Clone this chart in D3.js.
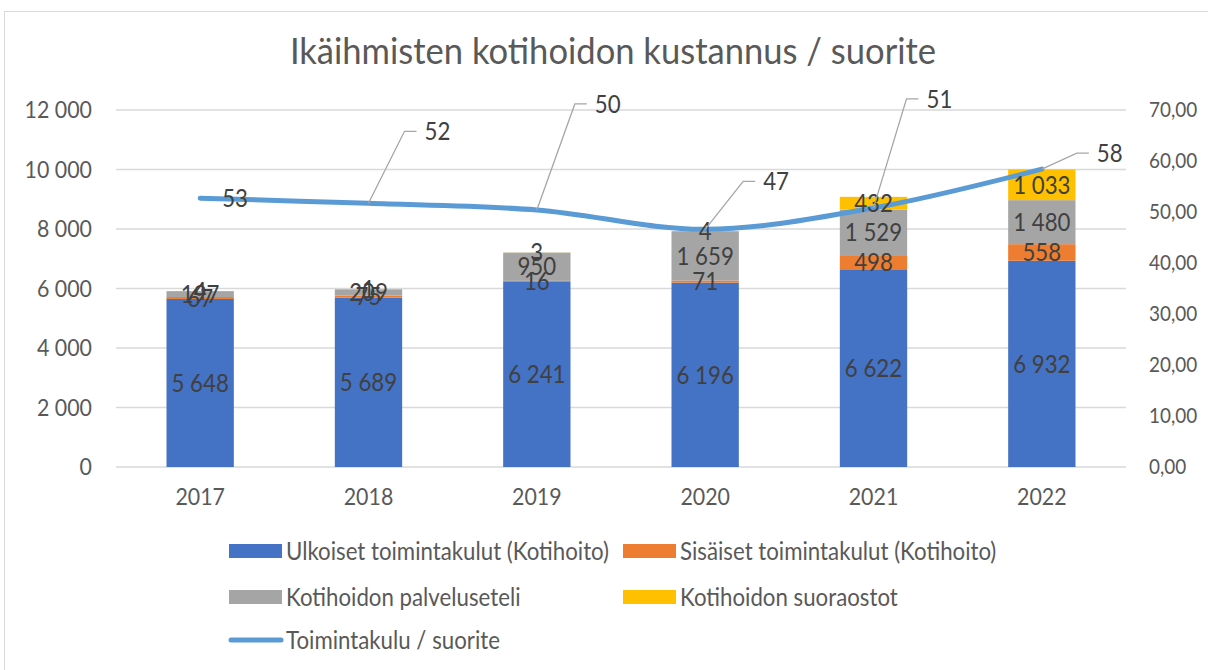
<!DOCTYPE html>
<html>
<head>
<meta charset="utf-8">
<script src="https://cdn.jsdelivr.net/npm/d3@7"></script>
<style>
	body { margin: 0; background: #fff; }
	text { font-family: Lato, "DejaVu Sans Condensed", sans-serif; }
</style>
</head>
<body>
<div id="chart"></div>
<script>
var vuodet = ["2017", "2018", "2019", "2020", "2021", "2022"];
var ulkoiset = [5648, 5689, 6241, 6196, 6622, 6932];
var sisaiset = [67, 75, 16, 71, 498, 558];
var palveluseteli = [197, 209, 950, 1659, 1529, 1480];
var suoraostot = [4, 1, 3, 4, 432, 1033];
var kustannus = [52.7, 51.7, 50.4, 46.6, 50.8, 58.4];

var vasenTicks = [0, 2000, 4000, 6000, 8000, 10000, 12000];
var oikeaTicks = [0, 10, 20, 30, 40, 50, 60, 70];

var sarjat = [
	{nimi: "Ulkoiset toimintakulut (Kotihoito)", arvot: ulkoiset, vari: "#4472C4"},
	{nimi: "Sisäiset toimintakulut (Kotihoito)", arvot: sisaiset, vari: "#ED7D31"},
	{nimi: "Kotihoidon palveluseteli", arvot: palveluseteli, vari: "#A5A5A5"},
	{nimi: "Kotihoidon suoraostot", arvot: suoraostot, vari: "#FFC000"}
];

// where the line labels sit relative to their point (leader elbow)
var selitePaikat = [
	{dx: 22, dy: 0, viiva: false},
	{dx: 36, dy: -72, viiva: true},
	{dx: 38, dy: -106, viiva: true},
	{dx: 38, dy: -48, viiva: true},
	{dx: 33, dy: -109, viiva: true},
	{dx: 35, dy: -16, viiva: true}
];

var width = 1208, height = 670;
var plotLeft = 116, plotRight = 1126, plotTop = 110, plotBottom = 467;

var fi = d3.formatLocale({decimal: ",", thousands: " ", grouping: [3], currency: ["", " €"]});
var fmtInt = fi.format(",d");
var fmtDec = fi.format(".2f");

// squeeze text sideways, the original font is narrow
function tiivista(sel, k) {
	sel.each(function() {
		var l = this.getComputedTextLength();
		d3.select(this).attr("textLength", l * k).attr("lengthAdjust", "spacingAndGlyphs");
	});
}

var svg = d3.select("#chart").append("svg")
	.attr("width", width)
	.attr("height", height);

svg.append("rect")
	.attr("x", 4.5).attr("y", 11.5)
	.attr("width", 1215).attr("height", 670)
	.attr("fill", "#fff")
	.attr("stroke", "#d9d9d9")
	.attr("stroke-width", 1);

var otsikko = svg.append("text")
	.attr("x", 613).attr("y", 64)
	.attr("text-anchor", "middle")
	.attr("fill", "#595959")
	.style("font-size", "36px")
	.text("Ikäihmisten kotihoidon kustannus / suorite");

var x = d3.scaleBand().domain(vuodet).range([plotLeft, plotRight]).paddingInner(0.6).paddingOuter(0.3);
var y = d3.scaleLinear().domain([0, 12000]).range([plotBottom, plotTop]);
var y2 = d3.scaleLinear().domain([0, 70]).range([plotBottom, plotTop]);

// gridlines
svg.append("g").selectAll("line")
	.data(vasenTicks)
	.enter().append("line")
	.attr("x1", plotLeft).attr("x2", plotRight)
	.attr("y1", function(d) { return y(d); })
	.attr("y2", function(d) { return y(d); })
	.attr("stroke", "#d9d9d9")
	.attr("stroke-width", function(d) { return d == 0 ? 1.6 : 1.3; });

var yAxis = svg.append("g")
	.attr("transform", "translate(" + (plotLeft - 24) + ",0)")
	.call(d3.axisLeft(y).tickValues(vasenTicks).tickFormat(fmtInt).tickSize(0).tickPadding(0));
var y2Axis = svg.append("g")
	.attr("transform", "translate(" + (plotRight + 23) + ",0)")
	.call(d3.axisRight(y2).tickValues(oikeaTicks).tickFormat(fmtDec).tickSize(0).tickPadding(0));
var xAxis = svg.append("g")
	.attr("transform", "translate(0," + (plotBottom + 30) + ")")
	.call(d3.axisBottom(x).tickSize(0).tickPadding(0));

[yAxis, y2Axis, xAxis].forEach(function(a) {
	a.select(".domain").remove();
	a.attr("font-family", null).attr("font-size", null);
	a.selectAll("text")
		.attr("fill", "#595959")
		.style("font-size", "24px");
});
y2Axis.selectAll("text").style("font-size", "21px");
xAxis.selectAll("text").attr("dy", "0.35em").attr("y", 0);

// stacked bars
var pinot = [];
vuodet.forEach(function(v, i) {
	var y0 = 0;
	sarjat.forEach(function(s) {
		pinot.push({vuosi: v, arvo: s.arvot[i], y0: y0, y1: y0 + s.arvot[i], vari: s.vari});
		y0 += s.arvot[i];
	});
});

svg.append("g").selectAll("rect")
	.data(pinot)
	.enter().append("rect")
	.attr("x", function(d) { return x(d.vuosi); })
	.attr("width", x.bandwidth())
	.attr("y", function(d) { return y(d.y1); })
	.attr("height", function(d) { return y(d.y0) - y(d.y1); })
	.attr("fill", function(d) { return d.vari; });

// line
var pisteet = vuodet.map(function(v, i) {
	return {vuosi: v, arvo: kustannus[i], x: x(v) + x.bandwidth() / 2, y: y2(kustannus[i]), paikka: selitePaikat[i]};
});

svg.append("path")
	.datum(pisteet)
	.attr("fill", "none")
	.attr("stroke", "#5B9BD5")
	.attr("stroke-width", 5)
	.attr("stroke-linecap", "round")
	.attr("d", d3.line().x(function(d) { return d.x; }).y(function(d) { return d.y; }).curve(d3.curveCatmullRom.alpha(0)));

// bar labels
svg.append("g").selectAll("text")
	.data(pinot)
	.enter().append("text")
	.attr("x", function(d) { return x(d.vuosi) + x.bandwidth() / 2; })
	.attr("y", function(d) { return y((d.y0 + d.y1) / 2); })
	.attr("dy", "0.35em")
	.attr("text-anchor", "middle")
	.attr("fill", "#404040")
	.style("font-size", "25px")
	.text(function(d) { return fmtInt(d.arvo); });

// line labels with leaders
var selitteet = svg.append("g").selectAll("g")
	.data(pisteet)
	.enter().append("g");

selitteet.filter(function(d) { return d.paikka.viiva; })
	.append("polyline")
	.attr("points", function(d) {
		var ex = d.x + d.paikka.dx, ey = d.y + d.paikka.dy;
		return [d.x, d.y, ex, ey, ex + 12, ey].join(" ");
	})
	.attr("fill", "none")
	.attr("stroke", "#a6a6a6")
	.attr("stroke-width", 1.3);

selitteet.append("text")
	.attr("x", function(d) { return d.x + d.paikka.dx + (d.paikka.viiva ? 20 : 0); })
	.attr("y", function(d) { return d.y + d.paikka.dy; })
	.attr("dy", "0.35em")
	.attr("fill", "#404040")
	.style("font-size", "25px")
	.text(function(d) { return Math.round(d.arvo); });

// legend
var legendRivit = [
	{nimi: sarjat[0].nimi, vari: sarjat[0].vari, x: 229, y: 551, tyyppi: "bar"},
	{nimi: sarjat[1].nimi, vari: sarjat[1].vari, x: 623, y: 551, tyyppi: "bar"},
	{nimi: sarjat[2].nimi, vari: sarjat[2].vari, x: 229, y: 597, tyyppi: "bar"},
	{nimi: sarjat[3].nimi, vari: sarjat[3].vari, x: 623, y: 597, tyyppi: "bar"},
	{nimi: "Toimintakulu / suorite", vari: "#5B9BD5", x: 229, y: 640, tyyppi: "line"}
];

var legend = svg.append("g").selectAll("g")
	.data(legendRivit)
	.enter().append("g")
	.attr("transform", function(d) { return "translate(" + d.x + "," + d.y + ")"; });

legend.filter(function(d) { return d.tyyppi == "bar"; })
	.append("rect")
	.attr("x", 0).attr("y", -7)
	.attr("width", 53).attr("height", 14)
	.attr("fill", function(d) { return d.vari; });

legend.filter(function(d) { return d.tyyppi == "line"; })
	.append("line")
	.attr("x1", 2).attr("x2", 52)
	.attr("y1", 0).attr("y2", 0)
	.attr("stroke", function(d) { return d.vari; })
	.attr("stroke-width", 5)
	.attr("stroke-linecap", "round");

legend.append("text")
	.attr("x", 57).attr("y", 0)
	.attr("dy", "0.35em")
	.attr("fill", "#595959")
	.style("font-size", "25px")
	.text(function(d) { return d.nimi; });

tiivista(svg.selectAll("text").filter(function() { return this !== otsikko.node() && !y2Axis.node().contains(this); }), 0.89);
tiivista(y2Axis.selectAll("text"), 0.9);
tiivista(otsikko, 0.96);
</script>
</body>
</html>
